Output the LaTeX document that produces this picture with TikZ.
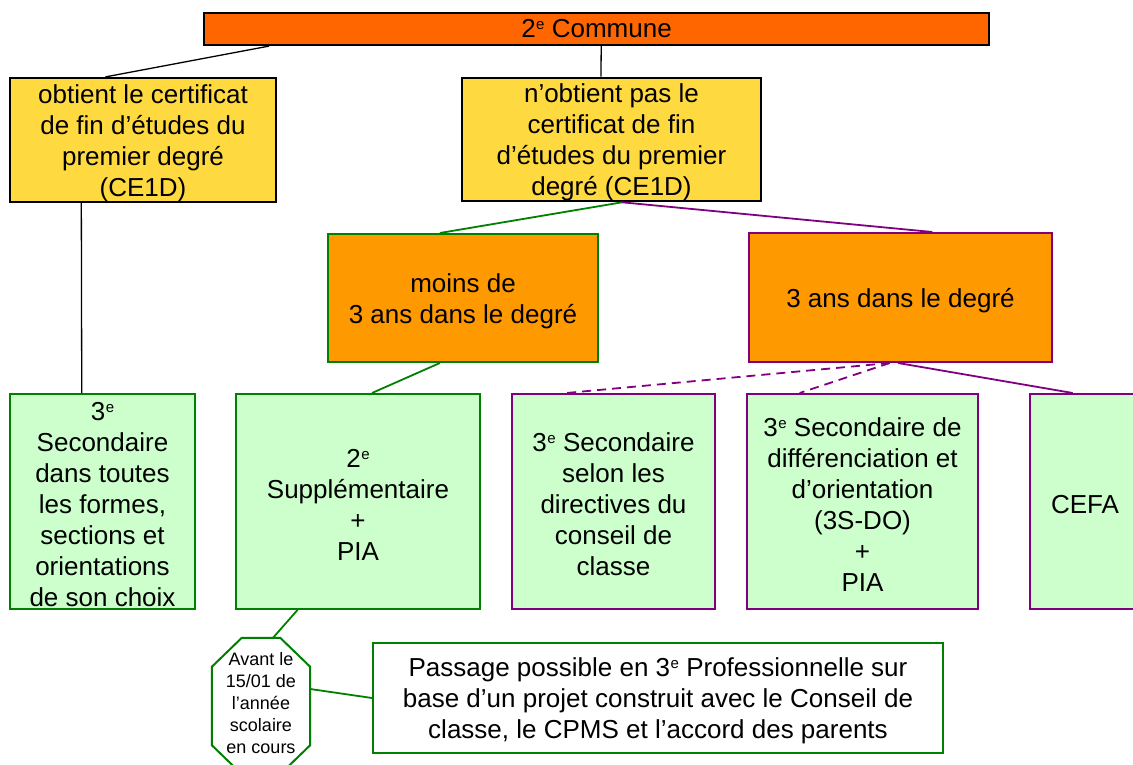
\documentclass[tikz,border=0pt]{standalone}
\usepackage{fontspec}
\setmainfont{Liberation Sans}
\usetikzlibrary{calc}
\definecolor{topor}{HTML}{FF6600}
\definecolor{yel}{HTML}{FFD940}
\definecolor{midor}{HTML}{FF9900}
\definecolor{lgreen}{HTML}{CCFFCC}
\definecolor{dgreen}{HTML}{008000}
\definecolor{purp}{HTML}{800080}
\newcommand{\ord}[1]{#1\kern0.5pt{\fontsize{15}{15}\selectfont\raisebox{8.5pt}{e}}}
\newcommand{\bxt}{\rule{0pt}{25pt}}
\tikzset{
  basebox/.style={rectangle, align=center, inner sep=0pt, font=\fontsize{26}{31}\selectfont},
  blackbox/.style={basebox, draw=black, line width=2.2pt},
  greenbox/.style={basebox, draw=dgreen, line width=2pt},
  purpbox/.style={basebox, draw=purp, line width=2pt},
  blackline/.style={draw=black, line width=1.3pt},
  greenline/.style={draw=dgreen, line width=1.8pt},
  purpline/.style={draw=purp, line width=1.8pt},
  purpdash/.style={purpline, dash pattern=on 9pt off 6pt},
}
\begin{document}
\begin{tikzpicture}[x=1pt,y=-1pt]
\path[use as bounding box, clip] (0,0) rectangle (1133,765);
\fill[white] (0,0) rectangle (1133,765);

\node[blackbox, fill=topor, minimum width=785pt, minimum height=32pt] (top) at (596.5,29) {\ord{2} Commune};

\node[blackbox, fill=yel, minimum width=266pt, minimum height=124pt] (cert) at (143,140)
  {\bxt obtient le certificat\\de fin d’études du\\premier degré\\(CE1D)};
\node[blackbox, fill=yel, minimum width=299pt, minimum height=123pt] (nocert) at (611.5,139.5)
  {\bxt n’obtient pas le\\certificat de fin\\d’études du premier\\degré (CE1D)};

\node[greenbox, fill=midor, minimum width=270pt, minimum height=128pt] (moins) at (463,298)
  {\bxt moins de\\3 ans dans le degré};
\node[purpbox, fill=midor, minimum width=303pt, minimum height=129pt] (trois) at (900.5,297.5)
  {\bxt 3 ans dans le degré};

\node[greenbox, fill=lgreen, minimum width=185pt, minimum height=215pt] (choix) at (102.5,501.5)
  {\bxt\ord{3}\\Secondaire\\dans toutes\\les formes,\\sections et\\orientations\\de son choix};
\node[greenbox, fill=lgreen, minimum width=244pt, minimum height=215pt] (supp) at (358,501.5)
  {\bxt\ord{2}\\Supplémentaire\\+\\PIA};
\node[purpbox, fill=lgreen, minimum width=203pt, minimum height=215pt] (selon) at (613.5,501.5)
  {\bxt\ord{3} Secondaire\\selon les\\directives du\\conseil de\\classe};
\node[purpbox, fill=lgreen, minimum width=231pt, minimum height=215pt] (sdo) at (862.5,501.5)
  {\bxt\ord{3} Secondaire de\\différenciation et\\d’orientation\\(3S-DO)\\+\\PIA};
\node[purpbox, fill=lgreen, minimum width=110pt, minimum height=215pt] (cefa) at (1085,501.5)
  {\bxt CEFA};

\node[align=center, inner sep=0pt, minimum width=98pt, minimum height=136pt,
  font=\fontsize{18}{21.8}\selectfont] (oct) at (261,706)
  {Avant le\\15/01 de\\l’année\\scolaire\\en cours\rule[-6pt]{0pt}{0pt}};
\draw[draw=dgreen, line width=2pt]
  ($(oct.north west)+(30,0)$) -- ($(oct.north east)+(-30,0)$) -- ($(oct.north east)+(0,29)$)
  -- ($(oct.south east)+(0,-29)$) -- ($(oct.south east)+(-30,0)$) -- ($(oct.south west)+(30,0)$)
  -- ($(oct.south west)+(0,-29)$) -- ($(oct.north west)+(0,29)$) -- cycle;

\node[greenbox, fill=white, minimum width=570pt, minimum height=110pt] (pass) at (658,698)
  {\bxt Passage possible en \ord{3} Professionnelle sur\\base d’un projet construit avec le Conseil de\\classe, le CPMS et l’accord des parents};

% connectors
\draw[blackline] ($(top.south west)!0.084!(top.south east)$) -- ($(cert.north west)!0.36!(cert.north east)$);
\draw[blackline] ($(top.south west)!0.506!(top.south east)$) -- ($(nocert.north west)!0.465!(nocert.north east)$);
\draw[blackline] ($(cert.south west)!0.27!(cert.south east)$) -- ($(choix.north west)!0.389!(choix.north east)$);
\draw[greenline] ($(nocert.south west)!0.535!(nocert.south east)$) -- ($(moins.north west)!0.415!(moins.north east)$);
\draw[purpline] ($(nocert.south west)!0.535!(nocert.south east)$) -- ($(trois.north west)!0.604!(trois.north east)$);
\draw[greenline] ($(moins.south west)!0.415!(moins.south east)$) -- ($(supp.north west)!0.557!(supp.north east)$);
\draw[purpdash] ($(trois.south west)!0.465!(trois.south east)$) -- ($(selon.north west)!0.27!(selon.north east)$);
\draw[purpdash] ($(trois.south west)!0.465!(trois.south east)$) -- ($(sdo.north west)!0.23!(sdo.north east)$);
\draw[purpline] ($(trois.south west)!0.492!(trois.south east)$) -- ($(cefa.north west)!0.39!(cefa.north east)$);
\draw[greenline] ($(supp.south west)!0.254!(supp.south east)$) -- ($(oct.north)+(12,0)$);
\draw[greenline] ($(oct.east)+(0,-17)$) -- (pass.west);
\end{tikzpicture}
\end{document}
